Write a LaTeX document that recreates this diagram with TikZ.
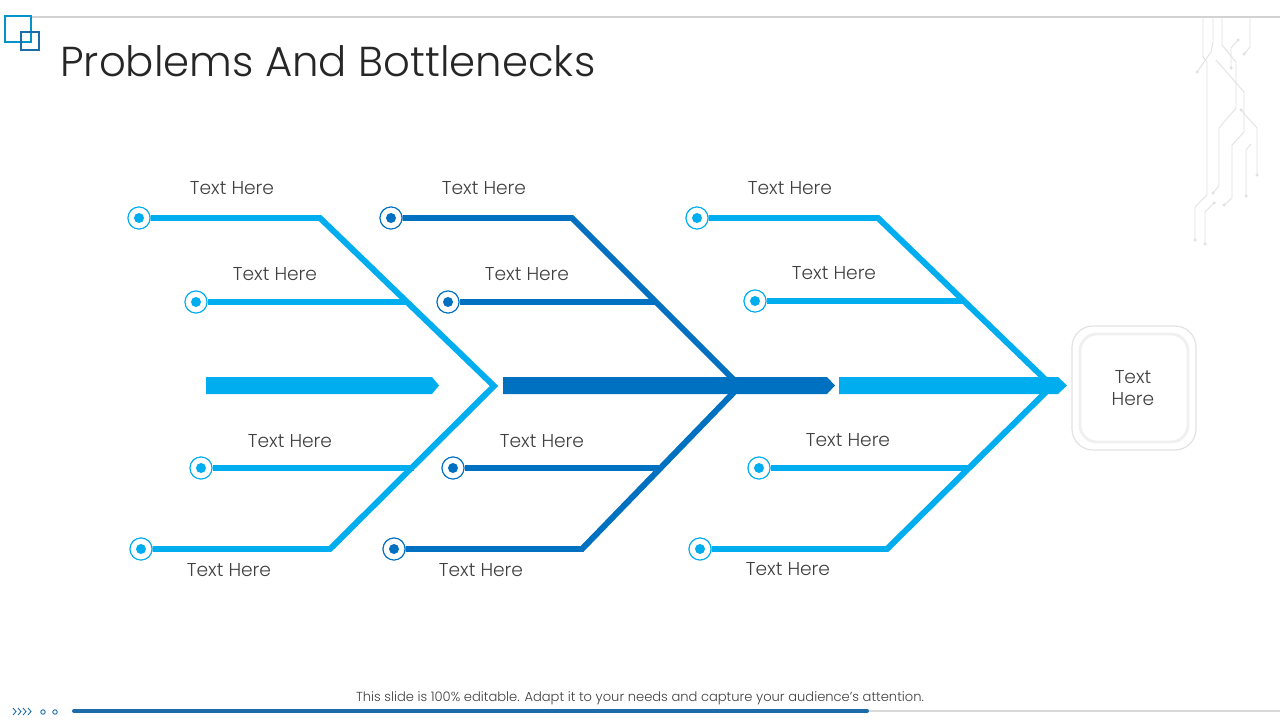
\documentclass[tikz,border=0pt]{standalone}
\usepackage{fontspec}
\setmainfont{Poppins}[UprightFont={* Light}]
\definecolor{lb}{HTML}{00AEEF}
\definecolor{dk}{HTML}{0070C0}
\definecolor{bar}{HTML}{1B6CA8}
\definecolor{txt}{HTML}{404040}
\definecolor{ttl}{HTML}{262626}
\definecolor{circ}{HTML}{E2E2E2}
\tikzset{
  bone/.style={draw=#1, line width=3.4pt, line join=miter, miter limit=10},
  shaft/.style={fill=#1, draw=none},
  dotmark/.style={circle, minimum size=0.44cm, inner sep=0pt, draw=#1, line width=0.6pt, fill=white,
    path picture={\fill[#1] (path picture bounding box.center) circle (0.1cm);}},
  lbl/.style={text=txt, font=\fontsize{10.6pt}{12pt}\selectfont, inner sep=0pt},
  circline/.style={draw=circ, line width=0.5pt},
  circdot/.style={circle, fill=circ, inner sep=0pt, minimum size=0.07cm},
}
\begin{document}
\begin{tikzpicture}[x=0.02cm,y=-0.02cm]
\useasboundingbox (0,0) rectangle (1280,720);
\fill[white] (0,0) rectangle (1280,720);

% top rule and logo
\coordinate (tl) at (31,17);
\coordinate (tr) at (1280,17);
\draw[draw=gray!35, line width=0.9pt] (tl) -- (tr);
\draw[draw=lb!85!black, line width=0.8pt] (5,16) rectangle (31,42);
\draw[draw=bar, line width=0.8pt] (21,32) rectangle (39,50);

% circuit decoration
\draw[circline] (1203,17) -- (1203,57) -- (1207,62) -- (1207,195) -- (1195,207) -- (1195,240);
\node[circdot] (c1) at (1195,240) {};
\draw[circline] (1213,17) -- (1213,42) -- (1211,52) -- (1197,72);
\node[circdot] (c2) at (1197,72) {};
\draw[circline] (1222,17) -- (1222,45) -- (1236,62) -- (1236,108) -- (1219,128) -- (1219,186) -- (1213,193);
\node[circdot] (c3) at (1213,193) {};
\draw[circline] (1250,17) -- (1250,47) -- (1244,54);
\node[circdot] (c4) at (1244,54) {};
\draw[circline] (1238,40) -- (1231,48) -- (1231,68);
\node[circdot] (c5) at (1238,40) {};
\node[circdot] (c6) at (1231,68) {};
\draw[circline] (1216,60) -- (1244,92) -- (1244,132) -- (1232,145) -- (1232,198) -- (1224,205);
\node[circdot] (c7) at (1224,205) {};
\draw[circline] (1241,110) -- (1257,128) -- (1257,175);
\node[circdot] (c8) at (1241,110) {};
\node[circdot] (c9) at (1257,175) {};
\draw[circline] (1214,203) -- (1205,212) -- (1205,244);
\node[circdot] (c10) at (1214,203) {};
\node[circdot] (c11) at (1205,244) {};
\draw[circline] (1246,196) -- (1246,150) -- (1251,144);
\node[circdot] (c12) at (1246,196) {};

% title
\node[anchor=base west, inner sep=0pt, text=ttl, font=\fontsize{23.8pt}{28pt}\selectfont] (title) at (60,76) {Problems And Bottlenecks};

% shafts
\fill[lb] (206,377) -- (432,377) -- (439,385.5) -- (432,394) -- (206,394) -- cycle;
\fill[dk] (503,377) -- (827,377) -- (835,385.5) -- (827,394) -- (503,394) -- cycle;
\fill[lb] (839,377) -- (1058,377) -- (1067,385.5) -- (1058,394) -- (839,394) -- cycle;

% ---------- left section
\node[dotmark=lb] (a1) at (139,218) {};
\node[dotmark=lb] (a2) at (196,302) {};
\node[dotmark=lb] (a3) at (201,468) {};
\node[dotmark=lb] (a4) at (141,549) {};
\coordinate (ak1) at (320,218);
\coordinate (ap) at (494,386);
\coordinate (ak4) at (330,549);
\coordinate (aj2) at (408,302);
\coordinate (aj3) at (414,468);
\draw[bone=lb] (a1) -- (ak1) -- (ap) -- (ak4) -- (a4);
\draw[bone=lb] (a2) -- (aj2);
\draw[bone=lb] (a3) -- (aj3);
\node[dotmark=lb] at (a1) {};
\node[dotmark=lb] at (a2) {};
\node[dotmark=lb] at (a3) {};
\node[dotmark=lb] at (a4) {};

% ---------- middle section
\coordinate (bk1) at (572,218);
\coordinate (bp) at (740,386);
\coordinate (bk4) at (582,549);
\coordinate (bj2) at (656,302);
\coordinate (bj3) at (662,468);
\node[dotmark=dk] (b1) at (391,218) {};
\node[dotmark=dk] (b2) at (448,302) {};
\node[dotmark=dk] (b3) at (453,468) {};
\node[dotmark=dk] (b4) at (394,549) {};
\draw[bone=dk] (b1) -- (bk1) -- (bp) -- (bk4) -- (b4);
\draw[bone=dk] (b2) -- (bj2);
\draw[bone=dk] (b3) -- (bj3);
\node[dotmark=dk] at (b1) {};
\node[dotmark=dk] at (b2) {};
\node[dotmark=dk] at (b3) {};
\node[dotmark=dk] at (b4) {};

% ---------- right section
\coordinate (ck1) at (878,218);
\coordinate (cp) at (1052,386);
\coordinate (ck4) at (887,549);
\coordinate (cj2) at (964,301);
\coordinate (cj3) at (969,468);
\node[dotmark=lb] (r1) at (697,218) {};
\node[dotmark=lb] (r2) at (755,301) {};
\node[dotmark=lb] (r3) at (759,468) {};
\node[dotmark=lb] (r4) at (700,549) {};
\draw[bone=lb] (r1) -- (ck1) -- (cp) -- (ck4) -- (r4);
\draw[bone=lb] (r2) -- (cj2);
\draw[bone=lb] (r3) -- (cj3);
\node[dotmark=lb] at (r1) {};
\node[dotmark=lb] at (r2) {};
\node[dotmark=lb] at (r3) {};
\node[dotmark=lb] at (r4) {};

% labels
\node[lbl] (la1) at (232,188) {Text Here};
\node[lbl] (la2) at (275,274) {Text Here};
\node[lbl] (la3) at (290,441) {Text Here};
\node[lbl] (la4) at (229,570) {Text Here};
\node[lbl] (lb1) at (484,188) {Text Here};
\node[lbl] (lb2) at (527,274) {Text Here};
\node[lbl] (lb3) at (542,441) {Text Here};
\node[lbl] (lb4) at (481,570) {Text Here};
\node[lbl] (lc1) at (790,188) {Text Here};
\node[lbl] (lc2) at (834,273) {Text Here};
\node[lbl] (lc3) at (848,440) {Text Here};
\node[lbl] (lc4) at (788,569) {Text Here};

% result box
\draw[draw=gray!22, line width=0.7pt, fill=white, rounded corners=0.42cm] (1072,326) rectangle (1196,450);
\draw[draw=gray!12, line width=1.6pt, fill=white, rounded corners=0.34cm] (1080,334) rectangle (1188,442);
\node[lbl, align=center, font=\fontsize{10.6pt}{13pt}\selectfont] (res) at (1133,388) {Text\\Here};

% footer
\node[inner sep=0pt, text=txt, font=\fontsize{7.45pt}{9pt}\selectfont] (foot) at (640,698) {This slide is 100\% editable. Adapt it to your needs and capture your audience's attention.};
\coordinate (fb1) at (74,711);
\coordinate (fb2) at (867,711);
\coordinate (fb3) at (1280,711);
\draw[draw=gray!30, line width=0.6pt] (fb2) -- (fb3);
\draw[draw=bar, line width=2.3pt, line cap=round] (fb1) -- (fb2);
\foreach \i in {0,1,2,3}{
  \draw[draw=bar, line width=0.5pt] (13+5*\i,708) -- (16+5*\i,711.5) -- (13+5*\i,715);
}
\draw[draw=bar, line width=0.5pt] (43,712) circle (0.045cm);
\draw[draw=bar, line width=0.5pt] (55,712) circle (0.045cm);
\end{tikzpicture}
\end{document}
